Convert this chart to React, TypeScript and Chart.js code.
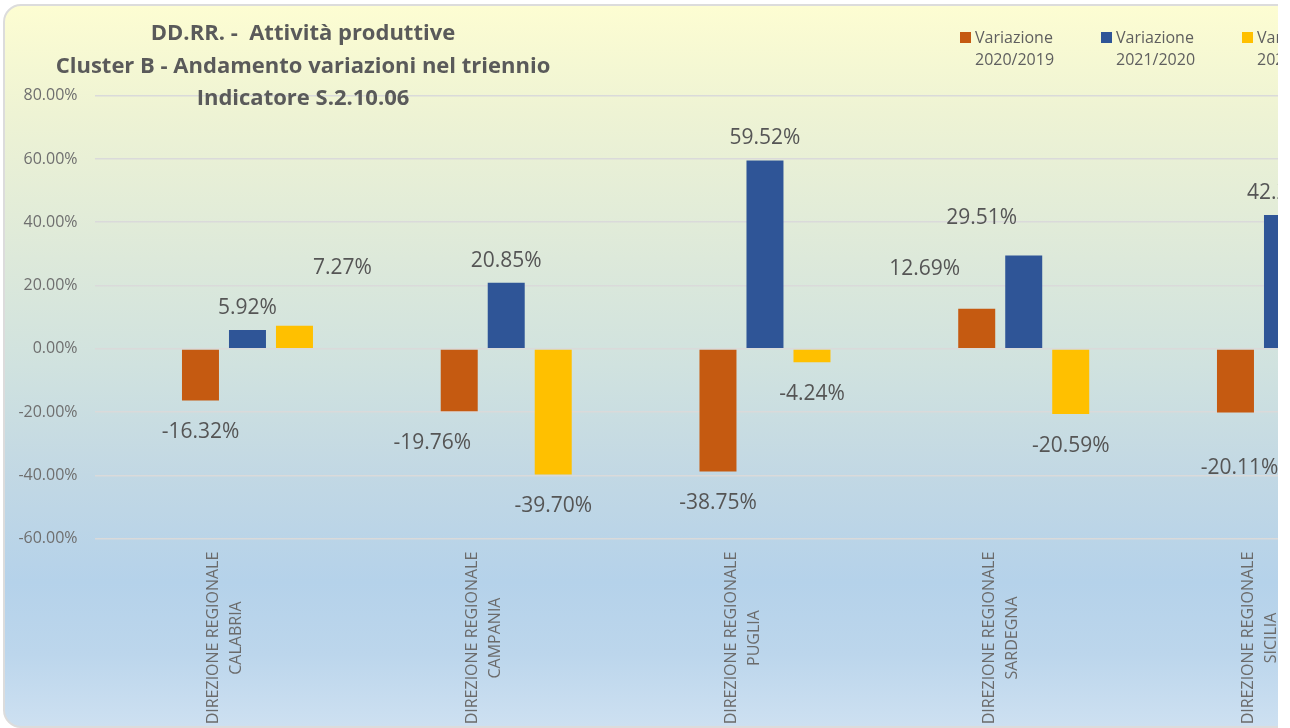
import React, { useEffect, useRef } from "react";
import { Chart, registerables } from "chart.js";

Chart.register(...registerables);

// ---- data ----
const categories: string[][] = [
  ["DIREZIONE REGIONALE", "CALABRIA"],
  ["DIREZIONE REGIONALE", "CAMPANIA"],
  ["DIREZIONE REGIONALE", "PUGLIA"],
  ["DIREZIONE REGIONALE", "SARDEGNA"],
  ["DIREZIONE REGIONALE", "SICILIA"],
];
const seriesNames = [
  ["Variazione", "2020/2019"],
  ["Variazione", "2021/2020"],
  ["Variazione", "2022/2021"],
];
const spacerSeries: (number | null)[] = [null, null, null, null, null];
const var2020vs2019 = [-16.32, -19.76, -38.75, 12.69, -20.11];
const var2021vs2020 = [5.92, 20.85, 59.52, 29.51, 42.29];
const var2022vs2021 = [7.27, -39.7, -4.24, -20.59, -8.5];
const yMin = -60;
const yMax = 80;
const yStep = 20;
const titleLines = [
  "DD.RR. -  Attività produttive",
  "Cluster B - Andamento variazioni nel triennio",
  "Indicatore S.2.10.06",
];

// ---- styles ----
const seriesColors = ["#C55A11", "#2F5597", "#FFC000"];
// manual label nudges (series index : category index) -> [dx, dy]
const labelNudges: Record<string, [number, number]> = {
  "2:0": [48, -36],
  "0:1": [-27, 0],
  "0:3": [-52, -18],
  "1:3": [-42, -15],
  "0:4": [4, 24],
};

const FONT = "'Open Sans', 'Noto Sans', sans-serif";
const CANVAS_W = 1400;
const CANVAS_H = 728;

const overlayPlugin = {
  id: "overlay",
  afterDatasetsDraw(chart: any) {
    const ctx = chart.ctx;
    ctx.save();
    ctx.font = `21px ${FONT}`;
    ctx.fillStyle = "#555555";
    ctx.textAlign = "center";
    ctx.textBaseline = "middle";
    for (let d = 1; d < chart.data.datasets.length; d++) {
      const meta = chart.getDatasetMeta(d);
      const vals = chart.data.datasets[d].data;
      meta.data.forEach((el: any, i: number) => {
        const v = vals[i];
        if (v == null) return;
        const nudge = labelNudges[`${d - 1}:${i}`] || [0, 0];
        const cy = v >= 0 ? el.y - 22 : el.y + 32;
        ctx.fillText(`${v.toFixed(2)}%`, el.x + nudge[0], cy + nudge[1]);
      });
    }
    ctx.restore();
  },
  afterDraw(chart: any) {
    const ctx = chart.ctx;
    const xs = chart.scales.x;
    ctx.save();
    // category labels (rotated, centered lines)
    ctx.font = `16px ${FONT}`;
    ctx.fillStyle = "#6b6b6b";
    ctx.textAlign = "center";
    ctx.textBaseline = "middle";
    categories.forEach((lines, i) => {
      const x = xs.getPixelForValue(i);
      ctx.save();
      ctx.translate(x + 1, 638);
      ctx.rotate(-Math.PI / 2);
      const pitch = 23;
      lines.forEach((t, k) => {
        ctx.fillText(t, 0, (k - (lines.length - 1) / 2) * pitch);
      });
      ctx.restore();
    });
    // title
    ctx.font = `bold 22px ${FONT}`;
    ctx.fillStyle = "#5a5a5a";
    ctx.textAlign = "center";
    titleLines.forEach((t, k) => {
      ctx.fillText(t, 303, 34 + k * 32.5);
    });
    // legend
    ctx.font = `16px ${FONT}`;
    ctx.textAlign = "left";
    seriesNames.forEach((lines, k) => {
      const lx = 960 + k * 141;
      ctx.fillStyle = seriesColors[k];
      ctx.fillRect(lx, 32, 11, 11);
      ctx.fillStyle = "#5f5f5f";
      lines.forEach((t, j) => {
        ctx.fillText(t, lx + 15, 38 + j * 22);
      });
    });
    ctx.restore();
  },
};

export default function App() {
  const ref = useRef<HTMLCanvasElement | null>(null);
  useEffect(() => {
    if (!ref.current) return;
    const chart = new Chart(ref.current, {
      type: "bar",
      data: {
        labels: categories.map((c) => c.join(" ")),
        datasets: [
          { label: "", data: spacerSeries, backgroundColor: "transparent" },
          { label: seriesNames[0].join(" "), data: var2020vs2019, backgroundColor: seriesColors[0] },
          { label: seriesNames[1].join(" "), data: var2021vs2020, backgroundColor: seriesColors[1] },
          { label: seriesNames[2].join(" "), data: var2022vs2021, backgroundColor: seriesColors[2] },
        ] as any,
      },
      options: {
        responsive: false,
        maintainAspectRatio: false,
        animation: false,
        datasets: {
          bar: { categoryPercentage: 0.7266, barPercentage: 0.787 },
        } as any,
        layout: { padding: { left: 0, top: 95.7, right: CANVAS_W - 1388.35, bottom: 0 } },
        plugins: {
          legend: { display: false },
          title: { display: false },
          tooltip: { enabled: false },
        },
        scales: {
          x: {
            grid: { display: false },
            border: { display: false },
            ticks: { display: false },
            afterFit: (s: any) => {
              s.height = CANVAS_H - 538.7;
            },
          },
          y: {
            min: yMin,
            max: yMax,
            border: { display: false },
            grid: { color: "#dadada", lineWidth: 1.6, drawTicks: false },
            ticks: {
              stepSize: yStep,
              padding: 17,
              color: "#6f6f6f",
              font: { family: FONT, size: 16 },
              callback: (v: any) => `${Number(v).toFixed(2)}%`,
            },
            afterFit: (s: any) => {
              s.width = 94.6;
            },
          },
        },
      },
      plugins: [overlayPlugin],
    });
    return () => chart.destroy();
  }, []);

  return (
    <div
      style={{
        position: "fixed",
        left: 0,
        top: 0,
        width: 1278,
        height: 728,
        overflow: "hidden",
        background: "#ffffff",
      }}
    >
      <div
        style={{
          position: "absolute",
          left: 3,
          top: 4,
          width: 1500,
          height: 720,
          border: "2px solid #dcdcdc",
          borderRadius: 18,
          background:
            "linear-gradient(to bottom, #fdfdd2 0%, #eef3d4 15%, #dde9da 35%, #d0e2df 50%, #c2d8e4 65%, #b5d2ea 80%, #bcd6ec 90%, #cde0f1 100%)",
        }}
      />
      <canvas
        ref={ref}
        width={CANVAS_W}
        height={CANVAS_H}
        style={{ position: "absolute", left: 0, top: 0, width: CANVAS_W, height: CANVAS_H }}
      />
    </div>
  );
}
